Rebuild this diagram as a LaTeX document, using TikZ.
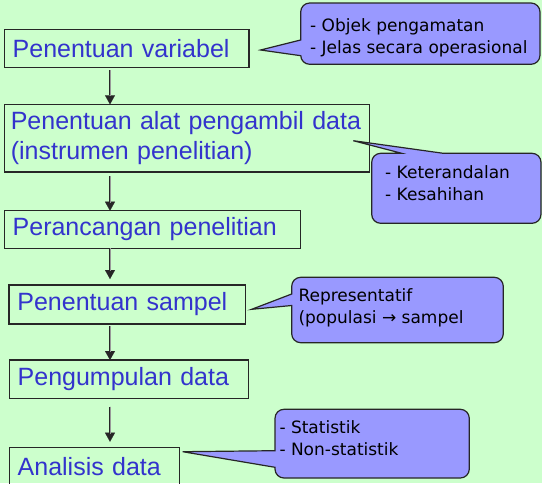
\documentclass[tikz,border=0pt]{standalone}
\usepackage{fontspec}
\setmainfont{Liberation Sans}
\newfontfamily\notefont{DejaVu Sans}
\usetikzlibrary{arrows.meta}
\definecolor{bggreen}{RGB}{204,255,204}
\definecolor{notefill}{RGB}{153,153,255}
\definecolor{steptext}{RGB}{51,51,204}

\begin{document}
\begin{tikzpicture}[x=1pt, y=-1pt,
    stepbox/.style={draw=black!85, line width=1.2pt, outer sep=0pt, inner xsep=8.4pt, inner ysep=0pt,
        align=left, text=steptext, font=\fontsize{25}{30}\selectfont, anchor=north west},
    callout/.style={draw=black!85, line width=1.2pt, fill=notefill},
    note/.style={inner sep=0pt, align=left, anchor=base west, font=\notefont\fontsize{17}{22}\selectfont},
    flow/.style={draw=black!85, line width=2.4pt, -{Triangle[width=10pt,length=9pt,line width=0.1pt]}},
    flowcore/.style={draw=black!40, line width=0.8pt}]
    \useasboundingbox (0,0) rectangle (542,483);
    \fill[bggreen] (0,0) rectangle (542,483);

    % steps
    \node[stepbox, text width=227.9pt, minimum height=38pt] (b1) at (4.3,29.5) {Penentuan variabel};
    \node[stepbox, inner xsep=6.5pt, text width=352pt, minimum height=67.7pt] (b2) at (4.3,104.3) {Penentuan alat pengambil data\\(instrumen penelitian)};
    \node[stepbox, text width=279.6pt, minimum height=37.6pt] (b3) at (4.3,210.7) {Perancangan penelitian};
    \node[stepbox, text width=219.9pt, minimum height=39pt] (b4) at (9,285) {Penentuan sampel};
    \node[stepbox, text width=222.6pt, minimum height=38.7pt] (b5) at (9.3,360) {Pengumpulan data};
    \node[stepbox, text width=153.2pt, minimum height=37pt] (b6) at (9.3,447.7) {Analisis data};

    \coordinate (axis) at (110,0);
    \foreach \a/\b/\s/\e in {b1/b2/2.5/0, b2/b3/4/0, b3/b4/0/6, b4/b5/2/0, b5/b6/8/6} {
        \draw[flow, shorten <=\s pt, shorten >=\e pt] (\a.south -| axis) -- (\b.north -| axis);
        \draw[flowcore, shorten <=\s pt, shorten >=\e pt+8pt] (\a.south -| axis) -- (\b.north -| axis);
    }

    % callouts
    \draw[callout] (540,33) [rounded corners=9pt] -- (540,64.3) -- (300.7,64.3)
        [sharp corners] -- (300.7,55.7) -- (260.7,50) -- (300.7,40) [rounded corners=9pt] -- (300.7,3) -- (540,3) -- cycle;
    \node[note] (n1) at (310,53.3) {- Objek pengamatan\\- Jelas secara operasional};

    \draw[callout] (541,188) [rounded corners=9pt] -- (541,223.3) -- (371.7,223.3) -- (371.7,153.3)
        [sharp corners] -- (401.7,153.3) -- (353.3,140.7) -- (443.3,153.3) [rounded corners=9pt] -- (541,153.3) -- cycle;
    \node[note] (n2) at (385,200) {- Keterandalan\\- Kesahihan};

    \draw[callout] (503.3,310) [rounded corners=9pt] -- (503.3,342.7) -- (291.7,342.7)
        [sharp corners] -- (291.7,305.5) -- (251.7,309.3) -- (291.7,294) [rounded corners=9pt] -- (291.7,277.3) -- (503.3,277.3) -- cycle;
    \node[note] (n4) at (298.3,323.3) {Representatif\\(populasi → sampel};

    \draw[callout] (469.3,440) [rounded corners=9pt] -- (469.3,478) -- (275,478)
        [sharp corners] -- (275,467.3) -- (182.7,451.7) -- (275,450.7) [rounded corners=9pt] -- (275,409.3) -- (469.3,409.3) -- cycle;
    \node[note] (n6) at (279.3,455) {- Statistik\\- Non-statistik};
\end{tikzpicture}
\end{document}
